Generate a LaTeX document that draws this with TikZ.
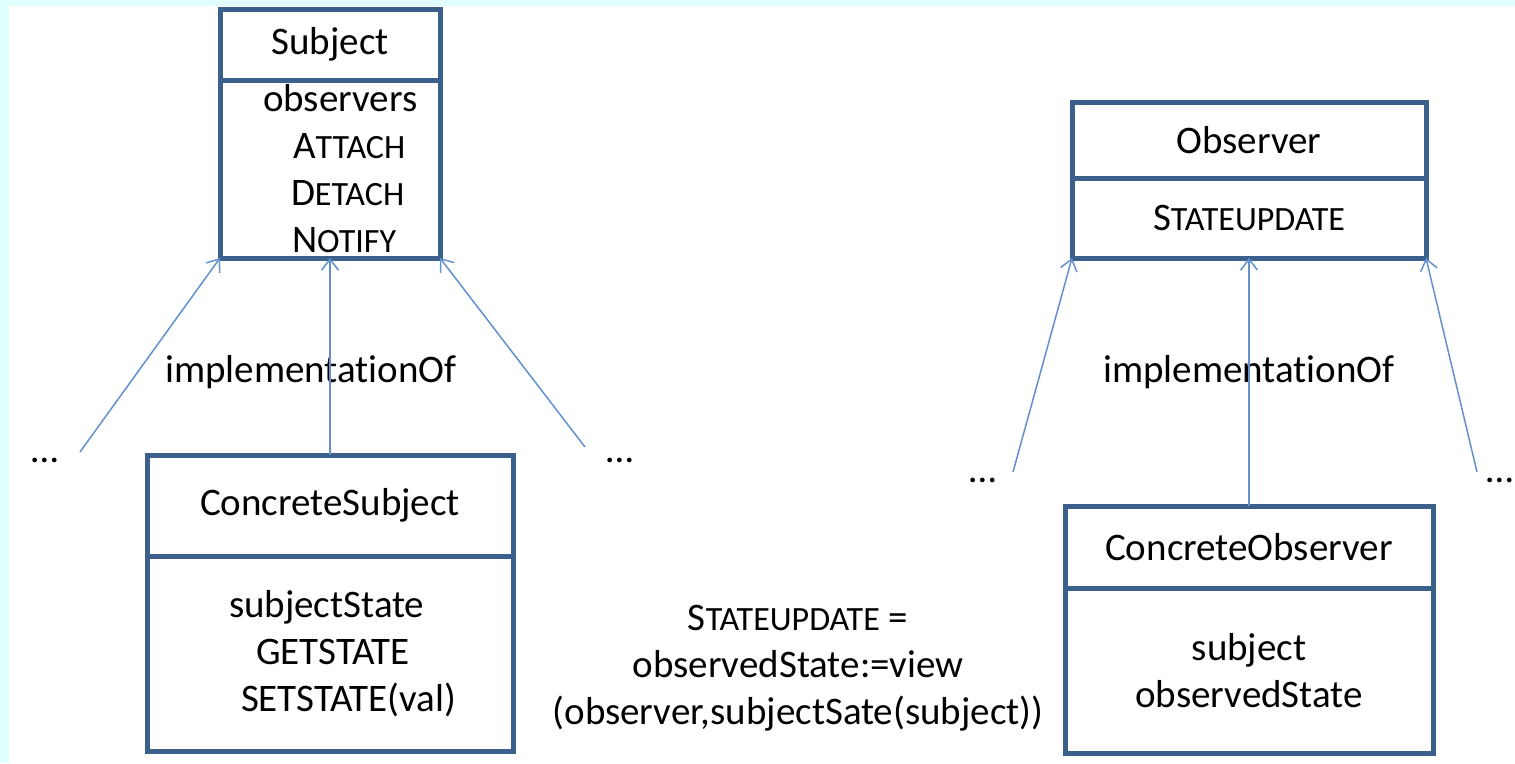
\documentclass[tikz,border=0pt]{standalone}
\usepackage{fontspec}
\setmainfont{Carlito}[Ligatures=CommonOff]
\usetikzlibrary{arrows.meta}
\definecolor{boxblue}{RGB}{60,96,140}
\definecolor{linkblue}{RGB}{100,145,205}
\definecolor{bgcyan}{RGB}{225,255,255}
\newcommand{\smc}[1]{{\fontsize{34}{40}\selectfont #1}}

\begin{document}
\begin{tikzpicture}[x=1pt,y=-1pt,font=\fontsize{39}{47}\selectfont,
   cls/.style={draw=boxblue,line width=5pt,inner sep=0pt,outer sep=0pt,anchor=north},
   link/.style={draw=linkblue,line width=1.5pt,-{Straight Barb[length=11pt,width=17pt]}}]
   \useasboundingbox (0,0) rectangle (1515,763);
   \fill[bgcyan] (0,0) rectangle (1515,763);
   \fill[white] (9,6) rectangle (1515,763);

   \node[cls,minimum width=220pt,minimum height=71pt] (subj) at (330,9) {Subject};
   \node[cls,minimum width=220pt,minimum height=178pt,text width=220pt,align=left] (subjops) at (subj.south)
      {\hspace*{43pt}observers\\ \hspace*{73pt}A\smc{TTACH}\\ \hspace*{71pt}D\smc{ETACH}\\ \hspace*{72pt}N\smc{OTIFY}};
   \node[cls,minimum width=366pt,minimum height=101pt] (csubj) at (330,455) {ConcreteSubject};
   \node[cls,minimum width=366pt,minimum height=195pt,text width=366pt,align=left] (csubjops) at (csubj.south)
      {\hspace*{82pt}subjectState\\ \hspace*{109pt}GETSTATE\\ \hspace*{94pt}SETSTATE(val)};

   \node[cls,minimum width=354pt,minimum height=76pt] (obs) at (1249,102) {Observer};
   \node[cls,minimum width=354pt,minimum height=80pt] (obsops) at (obs.south) {S\smc{TATEUPDATE}};
   \node[cls,minimum width=368pt,minimum height=82pt] (cobs) at (1249,506) {ConcreteObserver};
   \node[cls,minimum width=368pt,minimum height=165pt,align=center] (cobsops) at (cobs.south)
      {subject\\observedState};

   \node[align=center] (upd) at (798,668) {S\smc{TATEUPDATE} =\\observedState:=view\\(observer,subjectSate(subject))};
   \node (impls) at (311,372) {implementationOf};
   \node (implo) at (1249,372) {implementationOf};
   \node (mores1) at (45,460) {…};
   \node (mores2) at (620,460) {…};
   \node (moreo1) at (983,480) {…};
   \node (moreo2) at (1500,480) {…};

   \coordinate (s1) at (80,452);
   \coordinate (s3) at (585,447);
   \coordinate (o1) at (1013,472);
   \coordinate (o3) at (1477,472);
   \draw[link] (s1) -- (subjops.south west);
   \draw[link] (csubj.north) -- (subjops.south);
   \draw[link] (s3) -- (subjops.south east);
   \draw[link] (o1) -- (obsops.south west);
   \draw[link] (cobs.north) -- (obsops.south);
   \draw[link] (o3) -- (obsops.south east);
\end{tikzpicture}
\end{document}
